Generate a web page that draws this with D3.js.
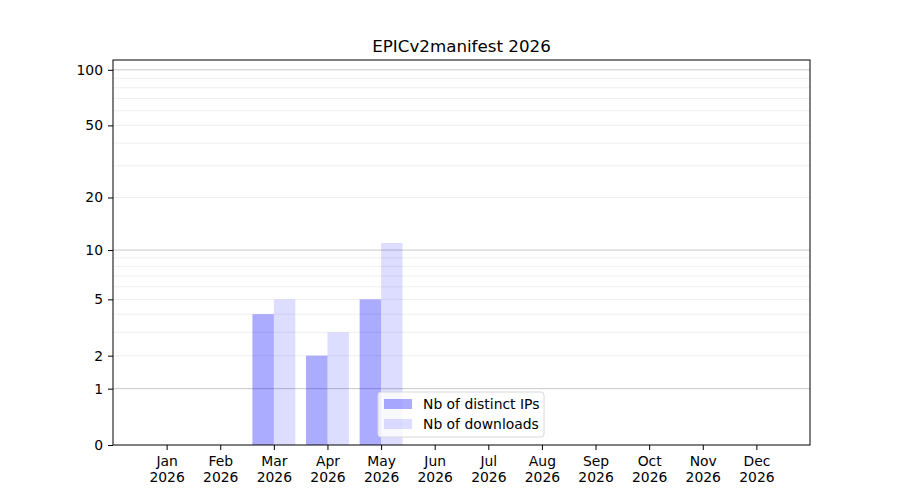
<!DOCTYPE html>
<html>
<head>
<meta charset="utf-8">
<script src="https://cdn.jsdelivr.net/npm/d3@7"></script>
<style>
  body { margin: 0; background: #fff; }
  text { font-family: "DejaVu Sans", sans-serif; fill: #000; }
</style>
</head>
<body>
<div id="chart"></div>
<script>
// data
var months    = ["Jan", "Feb", "Mar", "Apr", "May", "Jun", "Jul", "Aug", "Sep", "Oct", "Nov", "Dec"];
var year      = "2026";
var ips       = [0, 0, 4, 2, 5, 0, 0, 0, 0, 0, 0, 0];
var downloads = [0, 0, 5, 3, 11, 0, 0, 0, 0, 0, 0, 0];
var yTicks    = [0, 1, 2, 5, 10, 20, 50, 100];
var majorGrid = [1, 10, 100];
var minorGrid = [2, 3, 4, 5, 6, 7, 8, 9, 20, 30, 40, 50, 60, 70, 80, 90];
var yMax      = 113;

var width  = 900;
var height = 500;
var margin = {left: 113, right: 90, top: 60, bottom: 55};

var svg = d3.select("#chart")
    .append("svg")
    .attr("width", width)
    .attr("height", height);

var x = d3.scaleLinear()
    .domain([0, 13])
    .range([margin.left, width - margin.right]);

var y = d3.scaleSymlog()
    .constant(1)
    .domain([0, yMax])
    .range([height - margin.bottom, margin.top]);

var barW = x(0.4) - x(0);

// grid
svg.append('g').selectAll('line')
    .data(minorGrid)
    .enter()
    .append('line')
    .attr('x1', x(0)).attr('x2', x(13))
    .attr('y1', function(d) { return y(d) })
    .attr('y2', function(d) { return y(d) })
    .attr('stroke', '#ebebeb')
    .attr('stroke-width', 0.8);

svg.append('g').selectAll('line')
    .data(majorGrid)
    .enter()
    .append('line')
    .attr('x1', x(0)).attr('x2', x(13))
    .attr('y1', function(d) { return y(d) })
    .attr('y2', function(d) { return y(d) })
    .attr('stroke', '#c8c8c8')
    .attr('stroke-width', 1);

// bars
svg.append('g').selectAll('rect')
    .data(ips)
    .enter()
    .append('rect')
    .attr('x', function(d, i) { return x(i + 1) - barW })
    .attr('y', function(d) { return y(d) })
    .attr('width', barW)
    .attr('height', function(d) { return y(0) - y(d) })
    .attr('fill', 'blue')
    .attr('fill-opacity', 0.33);

svg.append('g').selectAll('rect')
    .data(downloads)
    .enter()
    .append('rect')
    .attr('x', function(d, i) { return x(i + 1) })
    .attr('y', function(d) { return y(d) })
    .attr('width', barW)
    .attr('height', function(d) { return y(0) - y(d) })
    .attr('fill', 'blue')
    .attr('fill-opacity', 0.135);

// frame
svg.append('rect')
    .attr('x', x(0)).attr('y', y(yMax))
    .attr('width', x(13) - x(0))
    .attr('height', y(0) - y(yMax))
    .attr('fill', 'none')
    .attr('stroke', '#000')
    .attr('stroke-width', 1);

// axes
var xAxis = svg.append('g')
    .attr('transform', 'translate(0,' + y(0) + ')')
    .call(d3.axisBottom(x)
      .tickValues(d3.range(1, 13))
      .tickSize(5)
      .tickFormat(''));
xAxis.select('.domain').remove();

xAxis.selectAll('.tick').each(function(d) {
  var t = d3.select(this).append('text')
    .attr('y', 21)
    .attr('text-anchor', 'middle')
    .style('font-size', '13.9px');
  t.append('tspan').attr('x', 0).text(months[d - 1]);
  t.append('tspan').attr('x', 0).attr('dy', 16).text(year);
});

var yAxis = svg.append('g')
    .attr('transform', 'translate(' + x(0) + ',0)')
    .call(d3.axisLeft(y)
      .tickValues(yTicks)
      .tickSize(5)
      .tickPadding(5)
      .tickFormat(d3.format('d')));
yAxis.select('.domain').remove();
yAxis.selectAll('text')
    .style('font-family', '"DejaVu Sans", sans-serif')
    .style('font-size', '13.9px')
    .attr('fill', '#000');

// title
svg.append('text')
    .attr('x', (x(0) + x(13)) / 2)
    .attr('y', 52)
    .attr('text-anchor', 'middle')
    .style('font-size', '16.7px')
    .text('EPICv2manifest ' + year);

// legend
var legend = svg.append('g')
    .attr('transform', 'translate(378,392)');

legend.append('rect')
    .attr('width', 166).attr('height', 45)
    .attr('rx', 3)
    .attr('fill', '#fff')
    .attr('fill-opacity', 0.8)
    .attr('stroke', '#d8d8d8');

var items = [
  {label: 'Nb of distinct IPs', op: 0.33},
  {label: 'Nb of downloads', op: 0.135}
];

items.forEach(function(it, i) {
  legend.append('rect')
    .attr('x', 6).attr('y', 7 + i * 20)
    .attr('width', 28).attr('height', 10)
    .attr('fill', 'blue')
    .attr('fill-opacity', it.op);
  legend.append('text')
    .attr('x', 45).attr('y', 17 + i * 20)
    .style('font-size', '13.9px')
    .text(it.label);
});
</script>
</body>
</html>
